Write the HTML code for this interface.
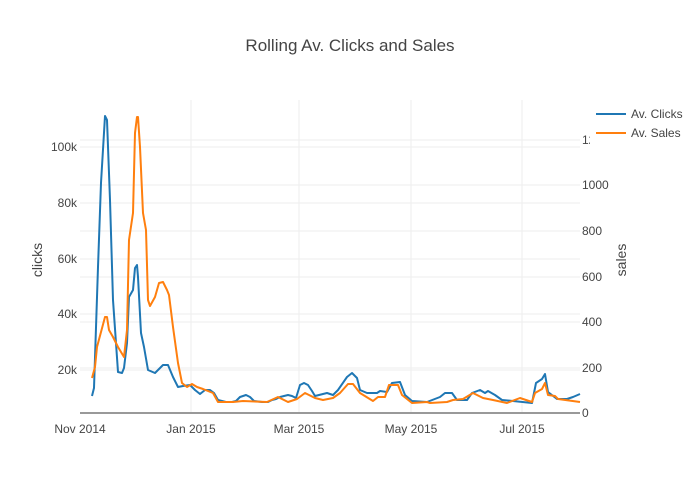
<!DOCTYPE html>
<html><head><meta charset="utf-8"><style>
body{margin:0;background:#fff}
svg{display:block;font-family:"Liberation Sans",sans-serif}
</style></head><body>
<svg width="700" height="500" viewBox="0 0 700 500">
<rect width="700" height="500" fill="#fff"/>
<text x="350" y="51" text-anchor="middle" font-size="17" fill="#444">Rolling Av. Clicks and Sales</text>
<g stroke="#eee" stroke-width="1">
<line x1="80" x2="580" y1="147" y2="147"/><line x1="80" x2="580" y1="203" y2="203"/>
<line x1="80" x2="580" y1="259" y2="259"/><line x1="80" x2="580" y1="314" y2="314"/>
<line x1="80" x2="580" y1="370" y2="370"/>
<line x1="80" x2="580" y1="140" y2="140"/><line x1="80" x2="580" y1="185" y2="185"/>
<line x1="80" x2="580" y1="231" y2="231"/><line x1="80" x2="580" y1="277" y2="277"/>
<line x1="80" x2="580" y1="322" y2="322"/><line x1="80" x2="580" y1="368" y2="368"/>
<line x1="191" x2="191" y1="100" y2="413"/><line x1="299" x2="299" y1="100" y2="413"/>
<line x1="411" x2="411" y1="100" y2="413"/><line x1="522" x2="522" y1="100" y2="413"/>
</g>
<line x1="80" x2="580" y1="413" y2="413" stroke="#999" stroke-width="2"/>
<g font-size="12" fill="#444" text-anchor="end">
<text x="77" y="151">100k</text><text x="77" y="207">80k</text><text x="77" y="263">60k</text>
<text x="77" y="318">40k</text><text x="77" y="374">20k</text>
</g>
<g font-size="12" fill="#444">
<text x="582" y="144">12</text><text x="582" y="189">1000</text><text x="582" y="235">800</text>
<text x="582" y="281">600</text><text x="582" y="326">400</text><text x="582" y="372">200</text>
<text x="582" y="417">0</text>
</g>
<g font-size="12" fill="#444" text-anchor="middle">
<text x="80" y="433">Nov 2014</text><text x="191" y="433">Jan 2015</text>
<text x="299" y="433">Mar 2015</text><text x="411" y="433">May 2015</text><text x="522" y="433">Jul 2015</text>
</g>
<text transform="translate(42,260) rotate(-90)" text-anchor="middle" font-size="14" fill="#444">clicks</text>
<text transform="translate(626,260) rotate(-90)" text-anchor="middle" font-size="14" fill="#444">sales</text>
<polyline fill="none" stroke="#1f77b4" stroke-width="2" stroke-linejoin="round" points="92,396 94,388 98,267 101,183 105,116 107,120 110,200 113,300 118,372 122,373 124,368 127,343 129,297 133,290 135,268 137,265 138,277 141,333 144,347 148,370 155,373 160,368 163,365 168,365 173,377 178,387 183,386 190,385 195,390 200,394 205,390 210,390 214,393 218,400 226,402 232,402 236,401 240,397 246,395 250,397 254,401 262,402 268,402 272,400 276,399 280,397 288,395 292,396 296,398 300,385 304,383 308,385 312,391 315,396 327,393 333,395 338,390 347,377 352,373 357,378 360,390 367,393 377,393 380,391 387,392 392,383 400,382 405,395 412,401 427,402 440,397 445,393 452,393 457,400 467,400 472,393 480,390 485,393 488,391 495,395 502,400 513,401 532,403 536,383 542,379 545,374 548,392 557,399 567,399 573,397 580,394"/>
<polyline fill="none" stroke="#ff7f0e" stroke-width="2" stroke-linejoin="round" points="92,378 95,367 97,347 105,317 107,317 109,330 113,337 118,347 124,357 127,330 129,240 133,213 135,133 137,117 138,117 140,147 143,213 146,230 148,300 150,306 155,297 159,283 163,282 167,290 169,295 173,327 178,363 182,383 187,387 192,384 197,387 203,389 213,393 218,402 233,402 243,401 267,402 278,397 288,402 297,399 305,393 315,398 323,400 333,398 340,393 348,384 353,384 360,393 373,401 378,397 385,397 389,385 398,385 402,395 412,403 427,402 430,403 447,402 453,400 463,399 473,393 483,398 493,400 507,403 520,398 532,402 535,393 542,389 545,383 548,395 555,396 558,399 580,402"/>
<rect x="590" y="104" width="110" height="40" fill="#fff"/>
<line x1="596" x2="626" y1="114" y2="114" stroke="#1f77b4" stroke-width="2"/>
<line x1="596" x2="626" y1="133" y2="133" stroke="#ff7f0e" stroke-width="2"/>
<text x="631" y="118" font-size="12" fill="#444">Av. Clicks</text>
<text x="631" y="137" font-size="12" fill="#444">Av. Sales</text>
</svg>
</body></html>
